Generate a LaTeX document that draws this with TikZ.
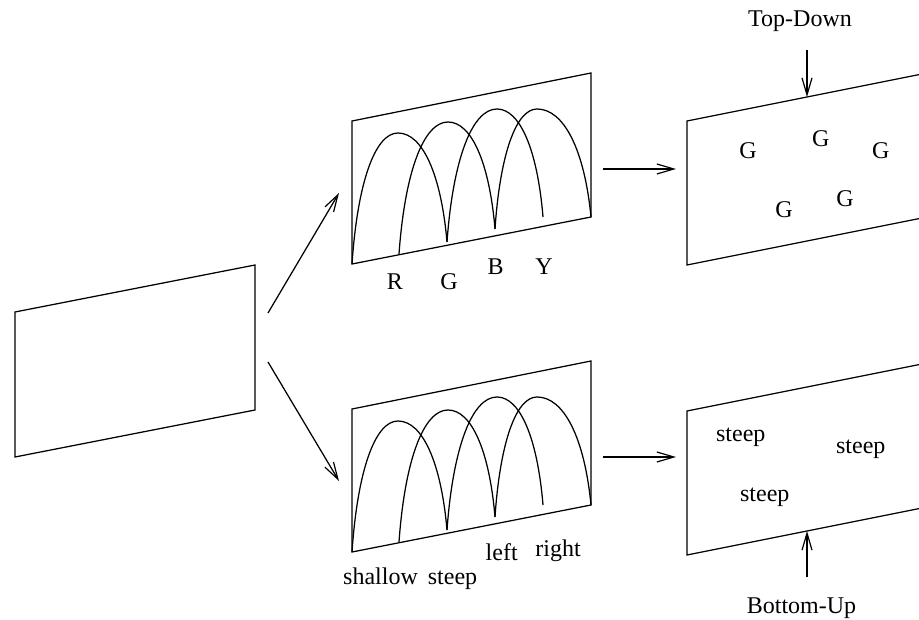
\documentclass[tikz,border=0pt]{standalone}
\usepackage{fontspec}
\setmainfont{Liberation Serif}
\usetikzlibrary{arrows.meta}

% One arch of a response curve: start, peak, end (y grows downward)
\newcommand{\archcurve}[6]{%
  \draw[curve] (#1,#2)
    .. controls ({#1+0.12*(#3-#1)},{#2-0.62*(#2-#4)}) and ({#3-0.5*(#3-#1)},#4) .. (#3,#4)
    .. controls ({#3+0.5*(#5-#3)},#4) and ({#5-0.12*(#5-#3)},{#6-0.62*(#6-#4)}) .. (#5,#6);}

% The four overlapping arches inside a filter panel
\newcommand{\archset}{%
  \archcurve{352}{264}{398}{133}{447}{242}
  \archcurve{399}{254}{448}{122}{495}{229}
  \archcurve{447}{242}{497}{109}{543}{217}
  \archcurve{495}{229}{537}{109}{591}{217}}

\begin{document}
\begin{tikzpicture}[x=1pt,y=-1pt,
  line width=1.25pt,
  panel/.style={draw,line width=1.25pt,line join=miter},
  curve/.style={line width=1.25pt},
  flow/.style={-{Straight Barb[length=17pt,width=10pt,line width=1.2pt]}},
  lbl/.style={anchor=base,inner sep=0pt,font=\fontsize{24}{28}\selectfont}]
\useasboundingbox (0,0) rectangle (919,620);
\clip (0,0) rectangle (919,620);

% input image
\draw[panel] (15,312) -- (255,265) -- (255,410) -- (15,457) -- cycle;

% colour filter bank
\draw[panel] (352,121) -- (591,73) -- (591,217) -- (352,264) -- cycle;
\archset
\node[lbl] (lR) at (395,290) {R};
\node[lbl] (lG) at (449,290) {G};
\node[lbl] (lB) at (495.5,274.3) {B};
\node[lbl] (lY) at (544,274.3) {Y};

% orientation filter bank
\draw[panel] (352,409) -- (591,361) -- (591,505) -- (352,552) -- cycle;
\begin{scope}[shift={(0,288)}]
  \archset
\end{scope}
\node[lbl] (lshallow) at (380.5,584) {shallow};
\node[lbl] (lsteep) at (452.5,584) {steep};
\node[lbl] (lleft) at (501.7,560) {left};
\node[lbl] (lright) at (558,556.7) {right};

% feature maps
\draw[panel] (687,121) -- (927,73) -- (927,217) -- (687,265) -- cycle;
\draw[panel] (687,411) -- (927,363) -- (927,507) -- (687,555) -- cycle;

\node[lbl] (g1) at (748,159) {G};
\node[lbl] (g2) at (820.7,146.7) {G};
\node[lbl] (g3) at (880.7,159) {G};
\node[lbl] (g4) at (784,218) {G};
\node[lbl] (g5) at (845,206.7) {G};

\node[lbl] (s1) at (740.8,441.7) {steep};
\node[lbl] (s2) at (860.8,453.3) {steep};
\node[lbl] (s3) at (764.8,501.7) {steep};

\node[lbl] (td) at (800,26.7) {Top-Down};
\node[lbl] (bu) at (801.5,613) {Bottom-Up};

% connector end points
\coordinate (inUp) at (268,313);
\coordinate (inDn) at (268,362);
\coordinate (colIn) at (339,193);
\coordinate (oriIn) at (339,481);
\coordinate (colOut) at (603,169);
\coordinate (mapTopIn) at (676,169);
\coordinate (oriOut) at (603,457);
\coordinate (mapBotIn) at (676,457);
\coordinate (tdStart) at (807,50);
\coordinate (tdEnd) at (807,97);
\coordinate (buStart) at (807,577);
\coordinate (buEnd) at (807,531);

\draw[flow] (inUp) -- (colIn);
\draw[flow] (inDn) -- (oriIn);
\draw[flow] (colOut) -- (mapTopIn);
\draw[flow] (oriOut) -- (mapBotIn);
\draw[flow] (tdStart) -- (tdEnd);
\draw[flow] (buStart) -- (buEnd);
\end{tikzpicture}
\end{document}
